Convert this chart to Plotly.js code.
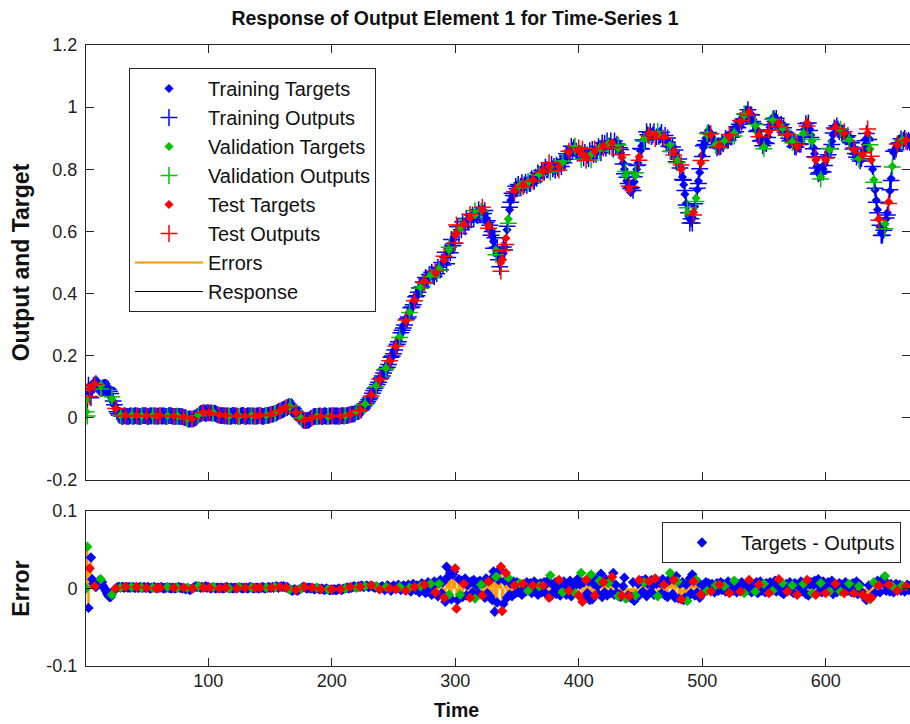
<!DOCTYPE html>
<html><head><meta charset="utf-8">
<script src="https://cdn.plot.ly/plotly-3.0.1.min.js"></script>
<style>html,body{margin:0;padding:0;background:#fff;} #chart{width:910px;height:724px;}</style>
</head><body><div id="chart"></div>
<script>
// Target values per time step
const targets = [
0.02,0.06,0.08,0.095,0.105,0.108,0.11,0.11,0.112,0.11,
0.11,0.108,0.105,0.103,0.10,0.098,0.095,0.09,0.083,0.075,
0.067,0.06,0.05,0.04,0.03,0.021,0.015,0.01,0.008,0.007,
0.007,0.008,0.008,0.007,0.006,0.007,0.008,0.008,0.007,0.007,
0.008,0.008,0.007,0.006,0.006,0.007,0.008,0.009,0.008,0.007,
0.006,0.006,0.007,0.007,0.008,0.008,0.007,0.006,0.006,0.007,
0.008,0.008,0.007,0.007,0.006,0.006,0.007,0.008,0.008,0.007,
0.006,0.006,0.005,0.006,0.007,0.007,0.006,0.005,0.004,0.003,
0.001,-0.001,-0.003,-0.004,-0.005,-0.005,-0.004,-0.002,0.001,0.004,
0.007,0.01,0.013,0.015,0.017,0.018,0.018,0.017,0.018,0.018,
0.017,0.016,0.016,0.017,0.016,0.014,0.012,0.01,0.009,0.008,
0.008,0.007,0.007,0.008,0.008,0.007,0.006,0.006,0.007,0.008,
0.008,0.007,0.007,0.006,0.006,0.007,0.008,0.008,0.007,0.006,
0.006,0.007,0.007,0.008,0.008,0.007,0.006,0.006,0.007,0.007,
0.008,0.008,0.007,0.007,0.006,0.007,0.008,0.009,0.01,0.011,
0.012,0.013,0.014,0.016,0.018,0.02,0.022,0.024,0.026,0.028,
0.03,0.032,0.034,0.035,0.036,0.036,0.034,0.031,0.027,0.022,
0.017,0.012,0.007,0.003,0,-0.003,-0.006,-0.007,-0.008,-0.008,
-0.007,-0.005,-0.002,0.001,0.003,0.004,0.005,0.005,0.005,0.005,
0.005,0.004,0.004,0.005,0.005,0.005,0.004,0.004,0.004,0.005,
0.005,0.005,0.004,0.004,0.005,0.005,0.005,0.005,0.006,0.006,
0.007,0.008,0.009,0.01,0.012,0.013,0.014,0.015,0.017,0.02,
0.022,0.024,0.026,0.03,0.035,0.04,0.045,0.05,0.055,0.06,
0.067,0.074,0.082,0.09,0.096,0.103,0.109,0.115,0.123,0.13,
0.138,0.145,0.152,0.16,0.167,0.175,0.184,0.192,0.201,0.21,
0.22,0.23,0.24,0.25,0.261,0.272,0.283,0.293,0.302,0.312,
0.321,0.33,0.34,0.35,0.36,0.37,0.379,0.388,0.397,0.405,
0.413,0.42,0.428,0.435,0.44,0.446,0.451,0.455,0.458,0.46,
0.461,0.462,0.464,0.467,0.471,0.475,0.481,0.487,0.494,0.5,
0.508,0.516,0.524,0.531,0.541,0.551,0.56,0.572,0.583,0.589,
0.595,0.6,0.605,0.61,0.615,0.62,0.624,0.628,0.633,0.637,
0.64,0.643,0.646,0.648,0.651,0.654,0.657,0.66,0.664,0.667,
0.67,0.669,0.665,0.655,0.642,0.628,0.619,0.61,0.6,0.585,
0.568,0.55,0.54,0.531,0.52,0.51,0.5,0.51,0.53,0.55,
0.578,0.605,0.64,0.67,0.7,0.713,0.725,0.732,0.739,0.745,
0.746,0.747,0.748,0.749,0.75,0.752,0.754,0.756,0.758,0.76,
0.762,0.764,0.766,0.77,0.773,0.777,0.78,0.784,0.788,0.791,
0.795,0.798,0.801,0.805,0.808,0.809,0.808,0.807,0.806,0.805,
0.805,0.806,0.807,0.808,0.81,0.815,0.822,0.83,0.836,0.842,
0.849,0.855,0.86,0.864,0.868,0.872,0.869,0.866,0.863,0.86,
0.856,0.852,0.848,0.845,0.842,0.84,0.84,0.843,0.845,0.848,
0.85,0.853,0.857,0.86,0.863,0.866,0.869,0.872,0.874,0.876,
0.878,0.88,0.882,0.884,0.885,0.885,0.885,0.885,0.883,0.879,
0.875,0.868,0.861,0.853,0.838,0.82,0.8,0.78,0.762,0.745,
0.735,0.726,0.73,0.74,0.76,0.78,0.8,0.82,0.84,0.86,
0.875,0.89,0.898,0.905,0.911,0.917,0.917,0.916,0.916,0.915,
0.913,0.912,0.91,0.912,0.915,0.917,0.913,0.909,0.905,0.9,
0.895,0.89,0.884,0.878,0.872,0.865,0.857,0.85,0.84,0.83,
0.82,0.81,0.8,0.775,0.75,0.72,0.69,0.66,0.65,0.64,
0.635,0.645,0.662,0.68,0.707,0.734,0.762,0.79,0.82,0.845,
0.87,0.885,0.9,0.912,0.925,0.918,0.91,0.902,0.894,0.885,
0.88,0.876,0.872,0.876,0.881,0.885,0.888,0.892,0.895,0.898,
0.902,0.905,0.908,0.911,0.914,0.917,0.925,0.932,0.94,0.947,
0.953,0.96,0.967,0.973,0.98,0.985,0.99,0.985,0.98,0.97,
0.96,0.95,0.94,0.93,0.92,0.91,0.9,0.89,0.88,0.872,
0.88,0.89,0.905,0.92,0.935,0.947,0.958,0.97,0.965,0.96,
0.955,0.95,0.945,0.94,0.934,0.927,0.921,0.916,0.91,0.905,
0.9,0.895,0.89,0.885,0.88,0.876,0.872,0.878,0.884,0.89,
0.903,0.916,0.93,0.94,0.95,0.94,0.93,0.91,0.89,0.87,
0.85,0.83,0.81,0.797,0.785,0.776,0.788,0.8,0.815,0.83,
0.843,0.855,0.863,0.872,0.89,0.91,0.937,0.936,0.935,0.932,
0.928,0.925,0.922,0.918,0.915,0.912,0.908,0.905,0.896,0.888,
0.88,0.872,0.863,0.855,0.848,0.841,0.835,0.832,0.83,0.845,
0.86,0.88,0.9,0.917,0.9,0.865,0.83,0.8,0.766,0.733,
0.7,0.67,0.64,0.615,0.595,0.6,0.61,0.625,0.64,0.66,
0.695,0.73,0.77,0.81,0.853,0.862,0.87,0.878,0.885,0.89,
0.895,0.895,0.896,0.895,0.894,0.893,0.891,0.89
];

// Error (target - output) per time step
const errors = [
0,0.054,-0.025,0.026,0.04,0.012,0.006,0.003,0.002,0.004,
0.008,0.011,0.012,0.008,0.003,0,-0.003,-0.006,-0.009,-0.011,
-0.011,-0.008,-0.004,-0.002,0,0.001,0.002,0.002,0.001,0.002,
0.002,0.001,0.002,0.002,0.001,0.002,0.001,0.002,0.002,0.001,
0.001,0.002,0.001,0.001,0.002,0.001,0.001,0.002,0.001,0.001,
0.002,0.001,0,0.001,0.001,0.002,0.001,0,0.001,0.001,
0.001,0.002,0.001,0,0.001,0.001,0.002,0.001,0.001,0,
0.001,0.001,0,0.001,0.001,0.002,0.001,0.001,0,0.001,
0,-0.001,0.001,0,-0.002,-0.001,0,0.001,0.002,0.003,
0.002,0.003,0.002,0.001,0.002,0.001,0.002,0.003,0.001,0.002,
0.001,0,0.001,0.002,0.001,0,0.001,0.001,0,0.001,
0.001,0,0.001,0.001,0.002,0.001,0,0.001,0.001,0,
0.001,0.001,0,0.001,0.002,0.001,0.001,0,0.001,0.001,
0.001,0,0.001,0.002,0.001,0.001,0,0.001,0.001,0.001,
0,0.001,0.001,0.002,0.001,0,0.001,0.001,0.002,0.001,
0.001,0.002,0.001,0.002,0.003,0.002,0.001,0.002,0.003,0.002,
0.003,0.002,0.001,0.002,0,-0.001,-0.002,-0.003,-0.002,-0.001,
-0.002,-0.003,-0.002,-0.001,0,0.001,0.002,0.002,0.001,0,
0.001,0.001,0,0.001,0,-0.001,0,0.001,0,-0.001,
-0.001,0,-0.001,-0.002,-0.001,0,-0.001,-0.002,-0.002,-0.001,
-0.002,-0.001,-0.002,-0.002,-0.001,0,-0.001,-0.002,-0.001,0,
0,0.001,0.001,0,0.002,0.001,0.002,0.003,0.002,0.001,
0.002,0.003,0.002,0.004,0.003,0.002,0.003,0.004,0.003,0.002,
0.003,0.004,0.003,0.002,0.001,0.003,0.002,0,-0.001,0.002,
0.003,0.001,-0.002,0.002,0.004,0.003,0,-0.003,0.002,0.004,
0.002,-0.001,0.003,0.005,0.002,-0.002,0.001,0.004,0.003,-0.003,
0.002,0.005,0.001,-0.004,0.003,0.006,0.002,-0.002,0.004,0.001,
-0.005,0.003,0.007,-0.002,0.005,-0.006,0.004,0.008,-0.003,0.006,
-0.008,0.004,0.009,-0.005,0.007,-0.01,0.006,0.011,-0.006,0.008,
-0.012,-0.017,0.028,0.015,-0.008,0.02,-0.014,0.018,0.022,0.026,
-0.026,-0.015,0.012,-0.008,0.01,-0.011,0.006,0.013,-0.009,0.004,
0.007,-0.012,0.009,-0.005,0.011,-0.013,0.004,0.008,-0.006,0.01,
0.005,-0.009,0.007,-0.012,0.013,-0.006,0.009,-0.01,0.012,-0.015,
0.022,-0.03,0.015,-0.018,0.011,0.024,0.028,-0.029,-0.02,0.01,
0.02,-0.012,0.014,-0.008,0.006,-0.01,0.009,0.004,-0.006,0.008,
-0.005,0.007,0.003,-0.008,0.006,0.002,-0.004,0.008,-0.003,0.005,
0.007,-0.006,0.004,0.009,-0.002,0.006,-0.008,0.003,0.007,-0.005,
0.004,0.008,-0.006,0.006,0.01,-0.012,0.017,-0.009,0.005,-0.004,
0.008,-0.007,0.003,0.011,-0.009,0.006,-0.005,0.009,0.004,-0.008,
0.006,-0.003,0.01,-0.01,0.007,0.002,-0.006,0.008,0.012,-0.009,
0.005,0.02,-0.017,0.008,-0.012,0.011,-0.006,0.009,-0.015,0.018,
-0.014,0.006,-0.009,0.012,0.003,-0.007,0.01,0.019,-0.011,0.008,
-0.005,0.012,-0.009,0.007,0.011,-0.006,0.015,0.02,-0.008,0.005,
-0.006,-0.01,-0.008,-0.011,-0.009,0.003,0.014,-0.013,-0.012,-0.009,
-0.01,-0.012,-0.011,0.008,-0.016,-0.009,-0.012,0.006,0.011,-0.007,
0.01,-0.004,0.008,0.012,-0.01,0.006,0.009,-0.005,0.011,0.004,
-0.008,0.013,0.006,-0.01,0.009,0.007,-0.006,0.012,0.005,-0.009,
0.008,-0.011,0.01,0.02,0.015,-0.007,0.011,-0.012,0.016,0.009,
-0.013,0.006,-0.014,0.008,-0.015,-0.012,0.005,-0.016,-0.01,0.013,
-0.006,0.018,0.009,-0.009,0.011,-0.005,0.008,-0.012,-0.008,0.004,
-0.006,0.005,0.008,-0.003,0.007,0.003,-0.004,0.006,0.002,-0.005,
0.004,0.007,-0.003,0.005,0.008,-0.002,0.006,0.003,-0.004,0.005,
0.009,-0.006,0.004,0.007,-0.003,0.01,0.004,-0.005,0.006,0.002,
-0.004,0.008,0.005,-0.006,0.003,0.007,-0.002,0.011,0.004,-0.005,
0.006,0.003,-0.004,0.008,-0.006,0.005,0.009,-0.003,0.004,0.006,
-0.005,0.007,0.003,-0.006,0.008,0.004,-0.003,0.006,0.01,-0.004,
0.005,0.012,0.003,-0.005,0.007,-0.007,0.002,0.006,-0.004,0.005,
0.008,-0.003,0.004,-0.006,0.007,0.005,-0.008,-0.005,0.004,0.009,
-0.004,0.006,0.003,-0.007,0.011,-0.009,0.005,0.008,-0.006,0.004,
0.01,-0.008,0.006,0.012,-0.004,0.007,-0.005,0.009,0.003,-0.006,
0.005,0.008,-0.004,0.006,0.01,-0.007,0.004,0.006,-0.005,0.003,
0.007,-0.004,0.005,0.003,-0.006,0.008,0.004,-0.003,0.006,0.002,
-0.005,0.007,-0.006,0.004,0.009,-0.007,0.003,0.005,-0.004,-0.008,
-0.01,-0.012,-0.015,-0.013,0.004,-0.014,-0.012,-0.009,0.008,-0.006,
0.006,0.01,0.004,-0.005,0.008,0.012,0.006,0.016,-0.003,0.007,
0.005,-0.004,0.006,0.003,-0.005,0.004,0.006,-0.003,0.002,0.005,
-0.003,0.004,0.002,-0.004,0.003,0.005,-0.002,0.003
];

// Data division per time step: T = training, V = validation, S = test
const setCodes = `
VVTSTTTSTT TTVTTTTTTT TVTTSTTTVT TTSTTTTVTT TSTTTVTTTS
TTTTVTTSTT STTTTTVTTT TSTTVTTTTS TTVTTTSTTT TVTTTSTTTT
STTVTTTTST TTTSTTVTTT TTSTVTTTTS TTTTVTTSTT TSTTTTVTTT
STTVTTTSTT TTSTTVTTTT STTTVTTSTT TTTSTTTVTT STTTTTVTTS
TTTTTTSTTT VTTTSTTTTV TTSTTTVTTT TSTTTVTTST TTTVTTSTTT
TSTTVTTTTS TTVTTTSTTT TVTTSTTTTV TTTSTTVTTT STTTVTTTTS
STTVTTSTTT TSTTTVTTTT VSTTTTSTTT TTVTTTSSTT STVTTTTSTT
TVTTSTTTVT TTSTTTTVTT STTTTSVTTT TTTSTTVTTT TSTTTTVTTS
TVSTTSTTTV TTSTTTVTTS TTTVTTSTTT TVTTSTTVTT STTTTVTTST
TTVTTTSTTT TSTVTTTTST TTTVTTSTTV TTSTTTTVTT TTSTVTTTST
TTTVTTSTTT VTTSTTTVTT TSTTTVTTTT STTVTTTSTT TTVTTSTTTV
TTTSTTVTTT TSTTVTTTST TTVTTTSTTT TVTTSTTTVT TSTTTVTTTS
TTVTTTTSTT TVTTSTTTVT TTSTTTVTTS TTTSTVSTVT TTSTTTTVTT
STTVTTTSTT TVTTSTTT`;

const xTickVals = [100, 200, 300, 400, 500, 600];
const xTickText = ['100', '200', '300', '400', '500', '600'];
const yTickVals = [-0.2, 0, 0.2, 0.4, 0.6, 0.8, 1, 1.2];
const yTickText = ['-0.2', '0', '0.2', '0.4', '0.6', '0.8', '1', '1.2'];
const eTickVals = [-0.1, 0, 0.1];
const eTickText = ['-0.1', '0', '0.1'];
const setOrder = ['T', 'V', 'S'];
const setNames = {T: 'Training', V: 'Validation', S: 'Test'};
const setColors = {T: '#0000ff', V: '#00c000', S: '#ff0000'};
const errColor = '#ff9900';

const codes = setCodes.replace(/\s+/g, '');
const n = targets.length;
const times = targets.map((_, i) => i + 1);
const errs = targets.map((_, i) => errors[i] || 0);
const outputs = targets.map((v, i) => v - errs[i]);
const codeAt = i => codes[i] || 'T';

const errTopX = [], errTopY = [], errBotX = [], errBotY = [];
for (let i = 0; i < n; i++) {
  errTopX.push(times[i], times[i], null); errTopY.push(targets[i], outputs[i], null);
  errBotX.push(times[i], times[i], null); errBotY.push(0, errs[i], null);
}

const FONT = 'Liberation Sans, Arial, sans-serif';
const traces = [];
traces.push({type:'scatter', mode:'lines', x:errTopX, y:errTopY, xaxis:'x2', yaxis:'y2',
  line:{color:errColor, width:2}, name:'Errors', legend:'legend', legendgroup:'g7', legendrank:7});
traces.push({type:'scatter', mode:'lines', x:times, y:outputs, xaxis:'x2', yaxis:'y2',
  line:{color:'#000000', width:1}, name:'Response', legend:'legend', legendgroup:'g8', legendrank:8});
setOrder.forEach((c, k) => {
  const idx = times.map((_, i) => i).filter(i => codeAt(i) === c);
  traces.push({type:'scatter', mode:'markers', x:idx.map(i => times[i]), y:idx.map(i => targets[i]),
    xaxis:'x2', yaxis:'y2', name:setNames[c] + ' Targets', legend:'legend', legendgroup:'g' + (2*k+1), legendrank:2*k+1,
    marker:{symbol:'diamond', size:7, color:setColors[c], line:{width:0}}});
  traces.push({type:'scatter', mode:'markers', x:idx.map(i => times[i]), y:idx.map(i => outputs[i]),
    xaxis:'x2', yaxis:'y2', name:setNames[c] + ' Outputs', legend:'legend', legendgroup:'g' + (2*k+2), legendrank:2*k+2,
    marker:{symbol:'cross-thin', size:12, color:setColors[c], line:{width:1.5, color:setColors[c]}}});
});
traces.push({type:'scatter', mode:'lines', x:errBotX, y:errBotY, xaxis:'x', yaxis:'y',
  line:{color:errColor, width:2.5}, showlegend:false});
setOrder.forEach((c, k) => {
  const idx = times.map((_, i) => i).filter(i => codeAt(i) === c);
  traces.push({type:'scatter', mode:'markers', x:idx.map(i => times[i]), y:idx.map(i => errs[i]),
    xaxis:'x', yaxis:'y', name:'Targets - Outputs', legend:'legend2', showlegend:(c === 'T'),
    marker:{symbol:'diamond', size:8, color:setColors[c], line:{width:0}}});
});

const axisLine = '#262626';
const tickFont = {family:FONT, size:18, color:'#222'};
const baseAxis = {showline:true, linecolor:axisLine, linewidth:1, mirror:'ticks', ticks:'inside',
  ticklen:8, tickcolor:axisLine, tickwidth:1, showgrid:false, zeroline:false, tickfont:tickFont};

const layout = {
  width:910, height:724,
  margin:{l:86, r:0, t:45, b:58, pad:0},
  paper_bgcolor:'#ffffff', plot_bgcolor:'#ffffff',
  font:{family:FONT, size:18, color:'#222'},
  showlegend:true,
  title:{text:'Response of Output Element 1 for Time-Series 1', xref:'container', x:0.5, xanchor:'center',
    yref:'container', y:1 - 18/724, yanchor:'middle',
    font:{family:FONT, size:19.5, weight:700, color:'#111'}},
  xaxis: Object.assign({}, baseAxis, {domain:[0,1], anchor:'y', range:[1, 668.3], tickvals:xTickVals, ticktext:xTickText,
    ticklabelstandoff:-2}),
  xaxis2: Object.assign({}, baseAxis, {domain:[0,1], anchor:'y2', matches:'x', range:[1, 668.3], tickvals:xTickVals,
    ticktext:xTickText, showticklabels:false}),
  yaxis: Object.assign({}, baseAxis, {domain:[0, 155/621], anchor:'x', range:[-0.1, 0.1], tickvals:eTickVals, ticktext:eTickText,
    ticklabelstandoff:4,
    title:{text:'Error', font:{family:FONT, size:23, weight:700, color:'#111'}, standoff:10}}),
  yaxis2: Object.assign({}, baseAxis, {domain:[186/621, 1], anchor:'x2', range:[-0.2, 1.2], tickvals:yTickVals, ticktext:yTickText,
    ticklabelstandoff:4,
    title:{text:'Output and Target', font:{family:FONT, size:23, weight:700, color:'#111'}, standoff:10}}),
  legend:{x:43/824, y:(666-68)/621, xanchor:'left', yanchor:'top', bgcolor:'#ffffff', bordercolor:axisLine, borderwidth:1,
    font:{family:FONT, size:20, color:'#111'}, itemwidth:68, traceorder:'grouped', tracegroupgap:0},
  legend2:{x:(662-86)/824, y:(666-522)/621, xanchor:'left', yanchor:'top', bgcolor:'#ffffff', bordercolor:axisLine, borderwidth:1,
    font:{family:FONT, size:20, color:'#111'}, itemwidth:68},
  annotations:[{text:'Time', xref:'paper', yref:'paper', x:(456-86)/824, y:(666-710)/621, xanchor:'center', yanchor:'middle',
    showarrow:false, font:{family:FONT, size:19.5, weight:700, color:'#111'}}],
  hovermode:false
};

Plotly.newPlot('chart', traces, layout, {staticPlot:true, displayModeBar:false});
</script>
</body></html>
